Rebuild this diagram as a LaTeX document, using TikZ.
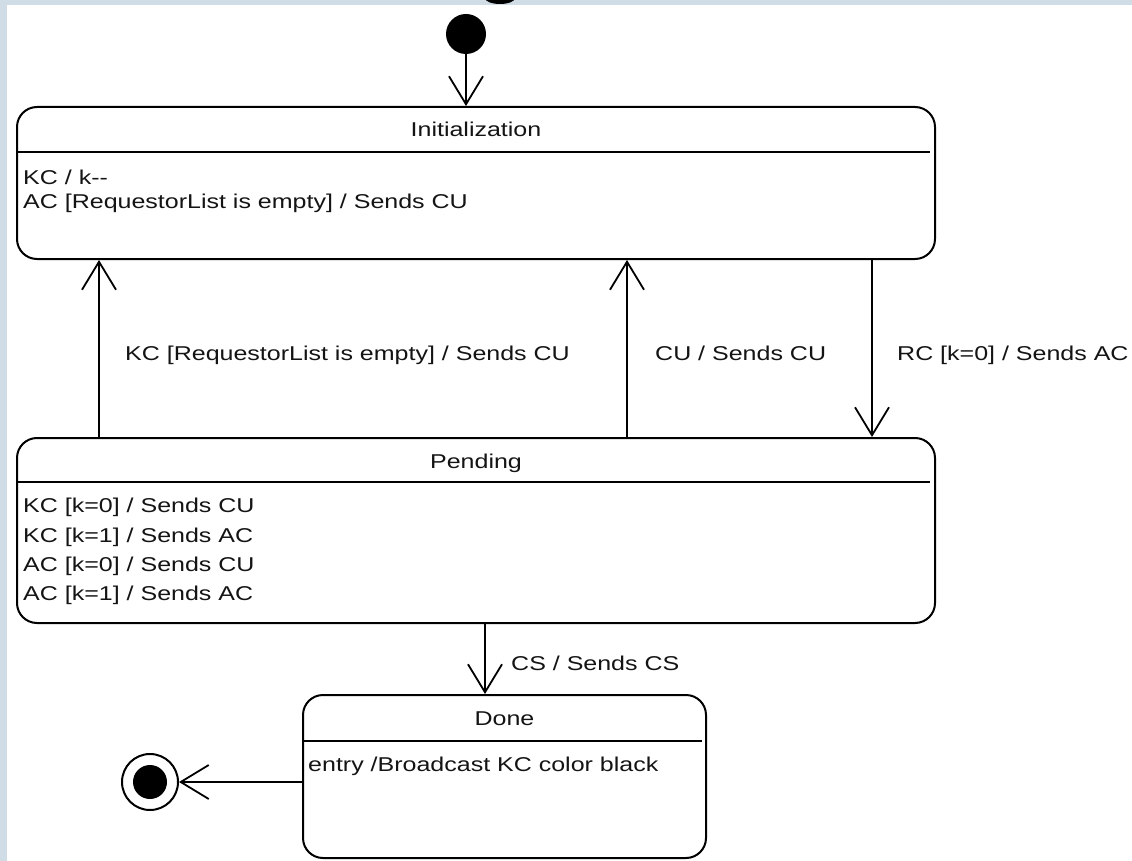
\documentclass[tikz,border=0pt]{standalone}
\usepackage{fontspec}
\setmainfont{Liberation Sans}[FakeStretch=1.25]
\usetikzlibrary{arrows.meta,calc}
\definecolor{edgeblue}{RGB}{208,220,230}
\definecolor{ink}{RGB}{20,20,20}
\begin{document}
\begin{tikzpicture}[x=1pt,y=-1pt,
  statebox/.style={draw=black, line width=2pt, rounded corners=20pt, inner sep=0pt,
                   minimum width=918pt, fill=white},
  divider/.style={draw=black, line width=2pt},
  ttl/.style={anchor=base, inner sep=0pt, text=ink, font=\fontsize{20}{24}\selectfont},
  act/.style={anchor=base west, inner sep=0pt, text=ink, font=\fontsize{20}{24}\selectfont},
  trans/.style={line width=1.8pt, -{Straight Barb[length=28pt,width=34pt]}}]
\useasboundingbox (0,0) rectangle (1132,861);

% page background with its pale border strips
\fill[edgeblue] (0,0) rectangle (1132,861);
\fill[white] (7,5) rectangle (1132,861);
\begin{scope}
  \clip (0,0) rectangle (1132,5);
  \fill[black] (500,-2) ellipse [x radius=15, y radius=6];
\end{scope}

% states
\node[statebox, minimum height=152pt] (init) at (476,183) {};
\node[statebox, minimum height=185pt] (pend) at (476,530.5) {};
\node[statebox, minimum width=403pt, minimum height=163pt] (done) at (504.5,776.5) {};

\draw[divider] ([yshift=-46pt]init.north west) -- ([yshift=-46pt,xshift=-6pt]init.north east);
\draw[divider] ([yshift=-45pt]pend.north west) -- ([yshift=-45pt,xshift=-6pt]pend.north east);
\draw[divider] ([yshift=-47pt]done.north west) -- ([yshift=-47pt,xshift=-5pt]done.north east);

% state names
\node[ttl] (initT) at (476,137) {Initialization};
\node[ttl] (pendT) at (476,468) {Pending};
\node[ttl] (doneT) at (504.5,725) {Done};

% internal activities
\node[act] (i1) at (23,185) {KC / k\mbox{-}\mbox{-}};
\node[act] (i2) at (23,208) {AC [RequestorList is empty] / Sends CU};
\node[act] (p1) at (23,512) {KC [k=0] / Sends CU};
\node[act] (p2) at (23,542) {KC [k=1] / Sends AC};
\node[act] (p3) at (23,571) {AC [k=0] / Sends CU};
\node[act] (p4) at (23,600) {AC [k=1] / Sends AC};
\node[act] (d1) at (308,771) {entry /Broadcast KC color black};

% pseudo states
\node[circle, fill=black, minimum size=40pt, inner sep=0pt] (start) at (466,34) {};
\node[circle, draw=black, line width=2pt, fill=white, minimum size=56pt, inner sep=0pt] (fin) at (150,782) {};
\node[circle, fill=black, minimum size=34pt, inner sep=0pt] (finDot) at (fin) {};

% transitions
\coordinate (xl) at (99,0);
\coordinate (xm) at (627,0);
\coordinate (xr) at (872,0);
\coordinate (xc) at (485,0);

\draw[trans] (start.south) -- (start.south |- init.north);
\draw[trans] (xl |- pend.north) -- (xl |- init.south);
\draw[trans] (xm |- pend.north) -- (xm |- init.south);
\draw[trans] (xr |- init.south) -- (xr |- pend.north);
\draw[trans] (xc |- pend.south) -- (xc |- done.north);
\draw[trans] (done.west |- fin) -- (fin.east);

% transition labels
\node[act] (l1) at (125,360) {KC [RequestorList is empty] / Sends CU};
\node[act] (l2) at (655,360) {CU / Sends CU};
\node[act] (l3) at (897,360) {RC [k=0] / Sends AC};
\node[act] (l4) at (511,670) {CS / Sends CS};
\end{tikzpicture}
\end{document}
